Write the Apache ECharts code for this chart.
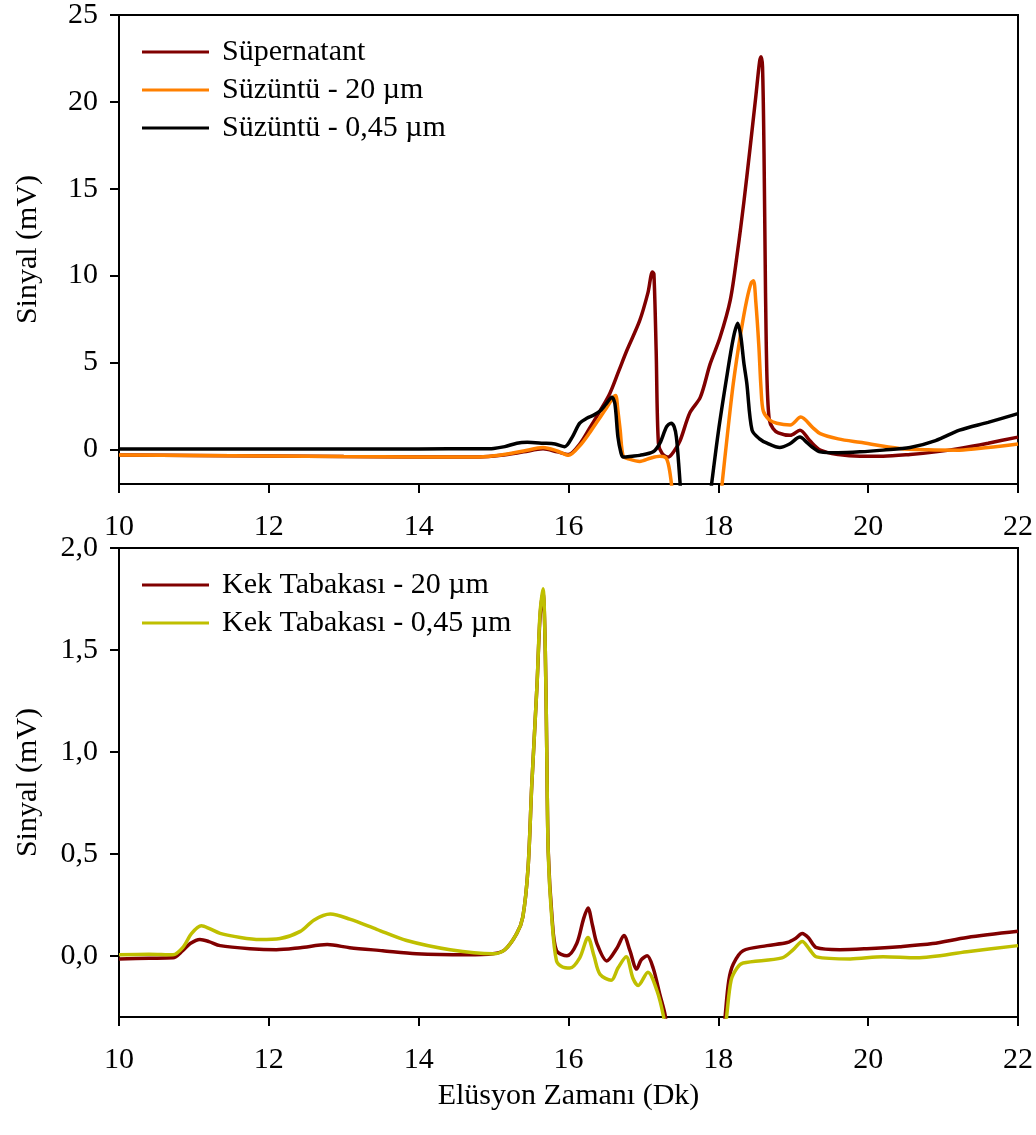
<!DOCTYPE html>
<html>
<head>
<meta charset="utf-8">
<script src="https://cdn.jsdelivr.net/npm/echarts@6/dist/echarts.min.js"></script>
<style>
  html, body { margin: 0; padding: 0; background: #fff; }
  #chart { width: 1036px; height: 1135px; }
</style>
</head>
<body>
<div id="chart"></div>
<script>
// top panel: [elution time (min), signal (mV)]
var supernatant = [[10,-0.33],[11,-0.36],[12,-0.39],[13,-0.42],[14,-0.44],[14.8,-0.44],[15.1,-0.35],[15.4,-0.15],[15.66,0.03],[15.85,-0.15],[16.0,-0.3],[16.15,0.3],[16.29,1.27],[16.42,2.2],[16.55,3.2],[16.67,4.5],[16.78,5.7],[16.95,7.4],[17.06,9.0],[17.12,10.2],[17.14,10.1],[17.17,5.7],[17.2,0.35],[17.25,-0.25],[17.33,-0.45],[17.41,-0.1],[17.49,0.5],[17.62,2.1],[17.76,3.0],[17.89,4.9],[18.02,6.4],[18.16,8.6],[18.26,11.5],[18.34,14.2],[18.42,17.2],[18.5,20.3],[18.55,22.3],[18.57,22.6],[18.59,22.0],[18.61,17],[18.63,9],[18.65,4],[18.68,1.7],[18.73,1.2],[18.8,0.95],[18.96,0.8],[19.09,1.1],[19.22,0.5],[19.36,-0.05],[19.6,-0.3],[19.89,-0.4],[20.2,-0.4],[20.56,-0.3],[20.9,-0.15],[21.22,0.05],[21.6,0.35],[22,0.7]];
var filtrate20 = [[10,-0.33],[11,-0.36],[12,-0.39],[13,-0.42],[14,-0.44],[14.8,-0.44],[15.1,-0.33],[15.4,-0.1],[15.66,0.1],[15.85,-0.1],[16.0,-0.35],[16.15,0.2],[16.29,1.0],[16.4,1.7],[16.51,2.4],[16.6,3.0],[16.63,3.1],[16.66,2.2],[16.69,1.1],[16.73,-0.4],[16.8,-0.55],[16.95,-0.7],[17.1,-0.5],[17.22,-0.4],[17.3,-0.5],[17.34,-1.0],[17.38,-2.2],[17.42,-4],[18.0,-4],[18.05,-2],[18.12,0.8],[18.2,3.8],[18.3,6.7],[18.38,8.6],[18.44,9.6],[18.47,9.7],[18.5,8.5],[18.54,6],[18.57,3.5],[18.6,2.2],[18.68,1.7],[18.78,1.5],[18.96,1.4],[19.1,1.85],[19.26,1.25],[19.36,0.9],[19.6,0.6],[19.89,0.4],[20.42,0.05],[20.8,-0.03],[21.22,-0.05],[21.6,0.1],[22,0.3]];
var filtrate045 = [[10,0.02],[12,0.02],[14,0.02],[14.8,0.03],[15.0,0.05],[15.15,0.15],[15.31,0.35],[15.45,0.4],[15.66,0.35],[15.82,0.3],[15.95,0.15],[16.05,0.7],[16.15,1.5],[16.25,1.8],[16.33,1.95],[16.42,2.2],[16.5,2.6],[16.58,3.0],[16.62,2.6],[16.66,0.7],[16.7,-0.2],[16.73,-0.45],[16.85,-0.4],[16.95,-0.35],[17.13,-0.15],[17.22,0.35],[17.31,1.3],[17.37,1.5],[17.41,1.3],[17.44,0.7],[17.47,-0.8],[17.49,-2],[17.52,-4],[17.85,-4],[17.91,-2],[18.0,1.0],[18.11,4.1],[18.2,6.4],[18.26,7.25],[18.3,6.5],[18.34,5.0],[18.38,3.8],[18.45,1.1],[18.55,0.6],[18.65,0.35],[18.82,0.1],[18.95,0.3],[19.09,0.7],[19.18,0.4],[19.26,0.1],[19.36,-0.15],[19.6,-0.2],[19.89,-0.15],[20.2,-0.05],[20.56,0.1],[20.9,0.5],[21.22,1.1],[21.6,1.55],[22,2.05]];

// bottom panel
var cake20 = [[10,-0.015],[10.4,-0.012],[10.72,-0.01],[10.85,0.025],[10.95,0.06],[11.08,0.08],[11.2,0.07],[11.35,0.05],[11.75,0.035],[12.1,0.03],[12.42,0.04],[12.78,0.055],[13.08,0.04],[13.52,0.025],[13.97,0.01],[14.64,0.005],[14.99,0.01],[15.15,0.03],[15.31,0.11],[15.39,0.19],[15.46,0.43],[15.51,0.84],[15.58,1.33],[15.62,1.66],[15.66,1.78],[15.69,1.5],[15.71,1.0],[15.73,0.51],[15.78,0.19],[15.84,0.025],[15.98,0.0],[16.11,0.06],[16.2,0.18],[16.26,0.235],[16.32,0.15],[16.38,0.06],[16.51,-0.025],[16.65,0.04],[16.74,0.1],[16.82,0.025],[16.91,-0.065],[16.97,-0.02],[17.05,0.0],[17.13,-0.06],[17.22,-0.19],[17.29,-0.29],[17.35,-0.45],[17.9,-0.6],[18.04,-0.5],[18.09,-0.3],[18.14,-0.12],[18.2,-0.04],[18.33,0.025],[18.65,0.05],[18.92,0.065],[19.03,0.085],[19.12,0.11],[19.2,0.09],[19.31,0.04],[19.62,0.03],[19.98,0.035],[20.42,0.045],[20.86,0.06],[21.32,0.09],[22,0.12]];
var cake045 = [[10,0.005],[10.4,0.008],[10.72,0.005],[10.85,0.04],[10.97,0.11],[11.1,0.147],[11.2,0.135],[11.35,0.11],[11.62,0.09],[11.88,0.08],[12.15,0.085],[12.42,0.12],[12.6,0.175],[12.82,0.205],[13.08,0.18],[13.44,0.13],[13.84,0.075],[14.42,0.03],[14.99,0.01],[15.15,0.03],[15.31,0.11],[15.39,0.19],[15.46,0.43],[15.51,0.84],[15.58,1.33],[15.62,1.68],[15.66,1.8],[15.69,1.5],[15.71,1.0],[15.73,0.5],[15.78,0.17],[15.84,-0.025],[15.92,-0.055],[16.02,-0.06],[16.15,-0.01],[16.26,0.09],[16.34,0.0],[16.42,-0.09],[16.57,-0.12],[16.66,-0.06],[16.77,-0.005],[16.86,-0.11],[16.93,-0.145],[17.06,-0.08],[17.18,-0.17],[17.27,-0.3],[17.33,-0.45],[17.9,-0.6],[18.05,-0.5],[18.11,-0.3],[18.17,-0.12],[18.25,-0.06],[18.33,-0.035],[18.85,-0.01],[19.0,0.03],[19.12,0.07],[19.22,0.03],[19.31,-0.005],[19.76,-0.015],[20.2,-0.005],[20.65,-0.01],[21.32,0.02],[22,0.05]];

var topTicks = [0, 5, 10, 15, 20, 25];
var bottomTicks = [0, 0.5, 1.0, 1.5, 2.0];

var FONT = '"Liberation Serif", "DejaVu Serif", serif';
var textBase = { fontFamily: FONT, fontSize: 30, color: '#000' };

function xAxisFor(gridIndex, name) {
  return {
    type: 'value', gridIndex: gridIndex, min: 10, max: 22, interval: 2,
    name: name || '', nameLocation: 'middle', nameGap: 64,
    nameTextStyle: textBase,
    axisLine: { onZero: false, lineStyle: { color: '#000', width: 2 } },
    axisTick: { length: 9, lineStyle: { color: '#000', width: 2 } },
    axisLabel: Object.assign({ margin: 28 }, textBase),
    splitLine: { show: false }
  };
}

function yAxisFor(gridIndex, min, max, ticks, fmt) {
  return {
    type: 'value', gridIndex: gridIndex, min: min, max: max,
    name: 'Sinyal (mV)', nameLocation: 'middle', nameGap: 76,
    nameTextStyle: textBase,
    axisLine: { onZero: false, lineStyle: { color: '#000', width: 2 } },
    axisTick: { length: 9, customValues: ticks, lineStyle: { color: '#000', width: 2 } },
    axisLabel: Object.assign({ margin: 21, customValues: ticks, formatter: fmt }, textBase),
    splitLine: { show: false }
  };
}

function lineSeries(name, data, color, idx) {
  return {
    name: name, type: 'line', data: data, xAxisIndex: idx, yAxisIndex: idx,
    showSymbol: false, symbol: 'none', smooth: 0.3, clip: true,
    lineStyle: { color: color, width: 3.5 }, itemStyle: { color: color },
    animation: false
  };
}

var legendBase = {
  orient: 'vertical', left: 137, itemWidth: 67, itemHeight: 3, itemGap: 8,
  icon: 'rect',
  textStyle: { fontFamily: FONT, fontSize: 30, color: '#000', lineHeight: 30, padding: [0, 0, 0, 8] }
};

var chart = echarts.init(document.getElementById('chart'));
chart.setOption({
  backgroundColor: '#fff',
  animation: false,
  grid: [
    { left: 119, top: 15, width: 899, height: 469, show: true, borderColor: '#000', borderWidth: 2 },
    { left: 119, top: 548, width: 899, height: 469, show: true, borderColor: '#000', borderWidth: 2 }
  ],
  legend: [
    Object.assign({ top: 32, data: ['Süpernatant', 'Süzüntü - 20 µm', 'Süzüntü - 0,45 µm'] }, legendBase),
    Object.assign({ top: 565, data: ['Kek Tabakası - 20 µm', 'Kek Tabakası - 0,45 µm'] }, legendBase)
  ],
  xAxis: [xAxisFor(0), xAxisFor(1, 'Elüsyon Zamanı (Dk)')],
  yAxis: [
    yAxisFor(0, -2, 25, topTicks, function (v) { return String(v); }),
    yAxisFor(1, -0.3, 2.0, bottomTicks, function (v) { return v.toFixed(1).replace('.', ','); })
  ],
  series: [
    lineSeries('Süpernatant', supernatant, '#800000', 0),
    lineSeries('Süzüntü - 20 µm', filtrate20, '#FF8000', 0),
    lineSeries('Süzüntü - 0,45 µm', filtrate045, '#000000', 0),
    lineSeries('Kek Tabakası - 20 µm', cake20, '#800000', 1),
    lineSeries('Kek Tabakası - 0,45 µm', cake045, '#BFBF00', 1)
  ]
});
</script>
</body>
</html>
